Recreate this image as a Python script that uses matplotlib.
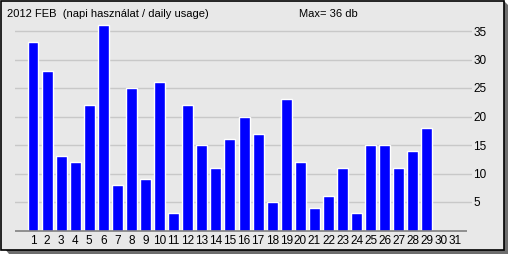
import matplotlib
matplotlib.use("Agg")
import matplotlib.pyplot as plt
from matplotlib.patches import Polygon, Rectangle

days = list(range(1, 32))
usage = [33, 28, 13, 12, 22, 36, 8, 25, 9, 26, 3, 22, 15, 11, 16, 20,
         17, 5, 23, 12, 4, 6, 11, 3, 15, 15, 11, 14, 18, 0, 0]
y_ticks = [5, 10, 15, 20, 25, 30, 35]
title = "2012 FEB  (napi használat / daily usage)"
max_label = "Max= 36 db"

W, H = 508, 254
plt.rcParams['font.family'] = ['Liberation Sans', 'DejaVu Sans']
fig = plt.figure(figsize=(W / 100, H / 100), dpi=100)
fig.patch.set_facecolor('white')

# pixel coords -> figure fraction
def px(x, y):
    return (x / W, 1 - y / H)

# shadow + panel behind the axes
shadow = Polygon([px(5, 249), px(9, 254), px(508, 254), px(508, 5), px(503, 0), px(503, 249)],
                 closed=True, transform=fig.transFigure, facecolor='#6e6e6e',
                 edgecolor='none', zorder=-20)
fig.patches.append(shadow)
panel = Rectangle(px(0.5, 249.5), 503 / W, 249 / H, transform=fig.transFigure,
                  facecolor='#e8e8e8', edgecolor='black', linewidth=1.2, zorder=-10)
fig.patches.append(panel)

# day 1 at x=33px, 14.07 px per day; y=0 at 230.5px, 5.7 px per unit
step = 14.07
left_px, right_px = 15, 472
top_px, base_px = 20, 230.5
ppu = 5.7
xlo = 1 + (left_px - 33) / step
xhi = 1 + (right_px - 33) / step
ax = fig.add_axes([left_px / W, 1 - base_px / H, (right_px - left_px) / W, (base_px - top_px) / H])
ax.set_xlim(xlo, xhi)
ax.set_ylim(0, (base_px - top_px) / ppu)
ax.set_facecolor('none')
for s in ax.spines.values():
    s.set_visible(False)

for t in y_ticks:
    ax.axhline(t, color='#c8c8c8', linewidth=1, zorder=1)

ax.bar(days, usage, width=0.78, color='#0000ff', edgecolor='white', linewidth=1, zorder=2)
ax.plot([xlo, 1 + (467 - 33) / step], [0, 0], color='#808080', linewidth=1.2,
        zorder=3, clip_on=False, solid_capstyle='butt')

ax.set_xticks(days)
ax.set_xticklabels([str(d) for d in days], fontsize=8.5)
ax.tick_params(axis='x', length=0, pad=3)
ax.yaxis.tick_right()
ax.set_yticks(y_ticks)
ax.set_yticklabels([str(t) for t in y_ticks], fontsize=8.5)
ax.tick_params(axis='y', length=0, pad=1)

fig.text(7 / W, 1 - 14 / H, title, fontsize=8, va='center', ha='left')
fig.text(299 / W, 1 - 14 / H, max_label, fontsize=8, va='center', ha='left')

fig.savefig('out.png', dpi=100, facecolor=fig.get_facecolor())
